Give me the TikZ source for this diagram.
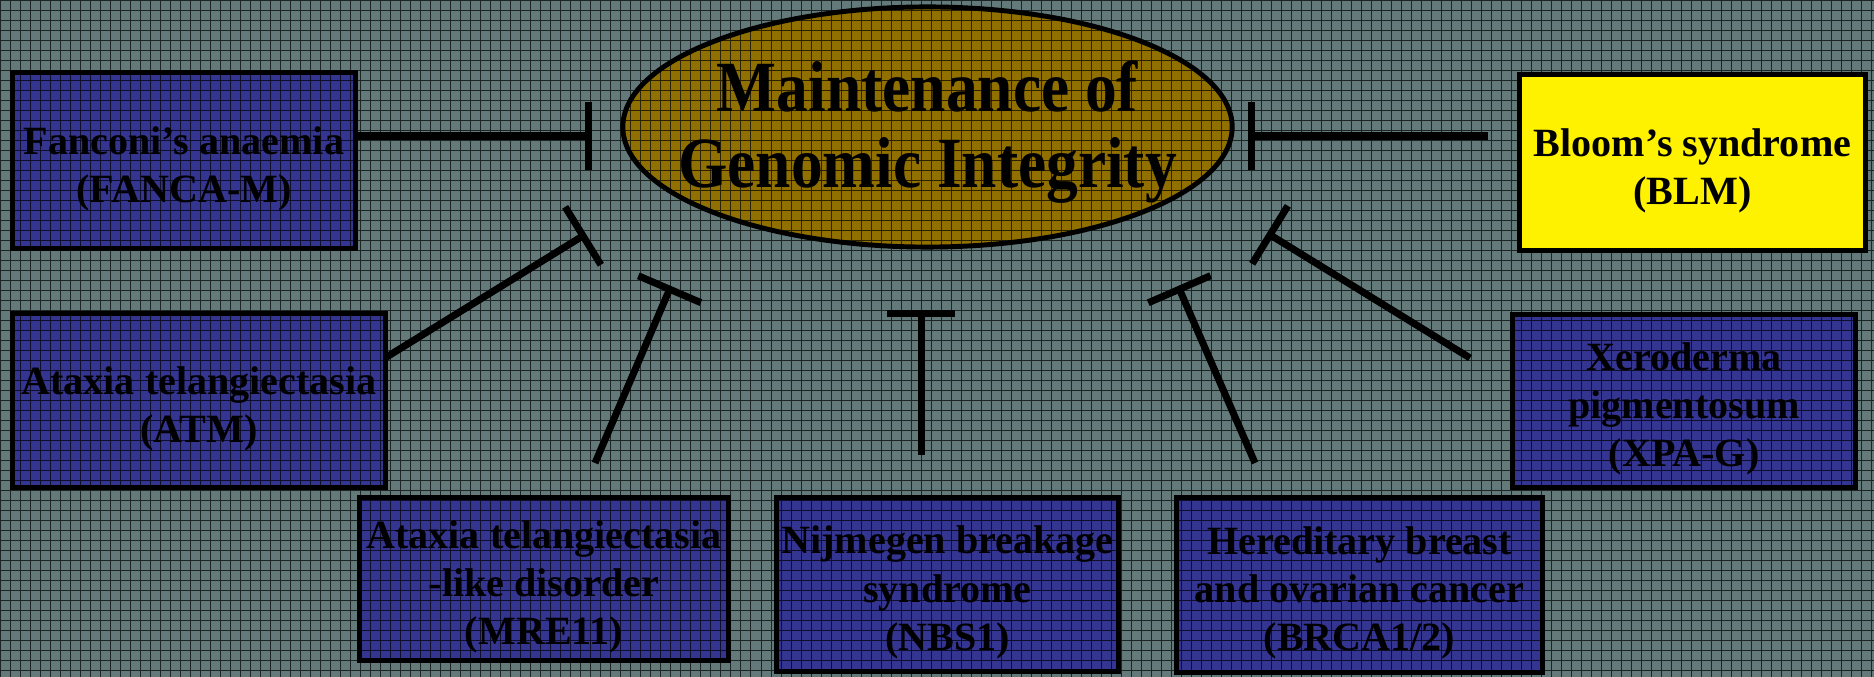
\documentclass[tikz,border=0pt]{standalone}
\usepackage{fontspec}
\setmainfont{Liberation Serif}
\newfontfamily\titlefont[FakeStretch=0.88]{Liberation Serif}
\usepackage{tikz}
\usetikzlibrary{arrows.meta,shapes.geometric}

\definecolor{bggrey}{RGB}{100,122,122}
\definecolor{diseaseblue}{RGB}{52,52,145}
\definecolor{coregold}{RGB}{143,112,0}

% text of a box, set a little below the middle
\newcommand{\boxlines}[1]{\raisebox{-0.08cm}[\height][\depth]{\begin{tabular}{@{}c@{}}#1\end{tabular}}}

\tikzset{
	disease/.style={draw=black, line width=1.4pt, fill=diseaseblue, align=center,
		font=\bfseries\fontsize{11.4}{13.7}\selectfont, inner sep=0pt},
	core/.style={ellipse, draw=black, line width=1.4pt, fill=coregold, inner sep=0pt},
	coretext/.style={align=center, inner sep=0pt,
		font=\titlefont\bfseries\fontsize{20.5}{21.6}\selectfont},
	inhib/.style={line width=2pt, -{Bar[width=0.68cm]}},
}

\begin{document}
\begin{tikzpicture}[x=0.01cm, y=-0.01cm]
			%%%%% START %%%%%
			
			\useasboundingbox (0, 0) rectangle (1874, 677);
			\fill[bggrey] (0, 0) rectangle (1874, 677);
			
			\node[disease, minimum width=3.42cm, minimum height=1.75cm] (fanc) at (184, 160.5) {\boxlines{Fanconi's anaemia\\(FANCA-M)}};
			\node[disease, minimum width=3.72cm, minimum height=1.73cm] (atm) at (199, 400.5) {\boxlines{Ataxia telangiectasia\\(ATM)}};
			\node[disease, minimum width=3.68cm, minimum height=1.62cm] (mre) at (544, 579) {\boxlines{Ataxia telangiectasia\\-like disorder\\(MRE11)}};
			\node[disease, minimum width=3.41cm, minimum height=1.73cm] (nbs) at (947.5, 584.5) {\boxlines{Nijmegen breakage\\syndrome\\(NBS1)}};
			\node[disease, minimum width=3.65cm, minimum height=1.74cm] (brca) at (1359.5, 585) {\boxlines{Hereditary breast\\and ovarian cancer\\(BRCA1/2)}};
			\node[disease, minimum width=3.42cm, minimum height=1.72cm] (xpa) at (1684, 401) {\boxlines{Xeroderma\\pigmentosum\\(XPA-G)}};
			
			\node[core, minimum width=6.09cm, minimum height=2.4cm] (gen) at (927.5, 127) {};
			\node[coretext] (gentext) at (927.5, 132) {Maintenance of\\Genomic Integrity};
			
			% grid over the page
			\draw[black, opacity=0.7, line width=0.2845pt, step=0.1cm, shift={(0.5, 0.5)}] (-0.5, -0.5) grid (1874, 677);
			
			\node[disease, fill=yellow, minimum width=3.45cm, minimum height=1.75cm] (blm) at (1692.5, 162.5) {\boxlines{Bloom's syndrome\\(BLM)}};
			
			\coordinate (fancT) at (592, 136);
			\coordinate (atmS) at (385, 358);
			\coordinate (atmT) at (586, 234);
			\coordinate (mreS) at (595, 463);
			\coordinate (mreT) at (671, 286);
			\coordinate (nbsS) at (921, 455);
			\coordinate (nbsT) at (921, 310);
			\coordinate (brcaS) at (1255, 463);
			\coordinate (brcaT) at (1178, 286);
			\coordinate (xpaS) at (1470, 358);
			\coordinate (xpaT) at (1267, 233);
			\coordinate (blmS) at (1488, 136);
			\coordinate (blmT) at (1248, 136);
			
			\draw[inhib] (fanc.east |- fancT) -- (fancT);
			\draw[inhib] (atmS) -- (atmT);
			\draw[inhib] (mreS) -- (mreT);
			\draw[inhib] (nbsS) -- (nbsT);
			\draw[inhib] (brcaS) -- (brcaT);
			\draw[inhib] (xpaS) -- (xpaT);
			\draw[inhib] (blmS) -- (blmT);
			
			%%%%% END %%%%%
\end{tikzpicture}
\end{document}
